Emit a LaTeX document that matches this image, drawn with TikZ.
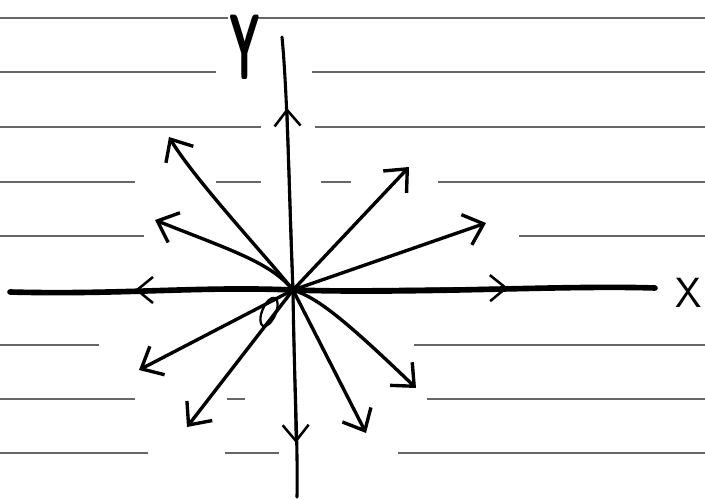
\documentclass[tikz,border=0pt]{standalone}
\usetikzlibrary{arrows.meta}
\begin{document}
\begin{tikzpicture}[
        x=0.025cm, y=-0.025cm,
        rule/.style={black!60, line width=0.9pt},
        xaxisline/.style={line width=4pt, line cap=round},
        yaxisline/.style={line width=2.2pt, line cap=round},
        ray/.style={-{Straight Barb[length=4.5mm,width=8mm]}, line width=2.4pt, line cap=round},
        midtip/.style={-{Straight Barb[length=4mm,width=6.5mm]}, line width=1.8pt},
        axislabel/.style={font=\sffamily, inner sep=0pt}
    ]
        % Paper
        \useasboundingbox[fill=white] (0,0) rectangle (705,500);
        \foreach \a/\b/\h in {0/228/18, 258/705/18, 0/216/72, 312/705/72,
                0/261/127, 315/705/127, 0/135/182, 216/261/182, 321/351/182, 438/705/182,
                0/144/236, 519/705/236, 0/99/345, 414/705/345,
                0/135/399, 227/245/399, 427/705/399, 0/148/453, 225/279/453, 398/705/453}
            \draw[rule] (\a,\h) -- (\b,\h);

        % Points
        \coordinate (O) at (293,290);
        \coordinate (xl) at (10,292);
        \coordinate (xr) at (655,288);
        \coordinate (yt) at (282,37);
        \coordinate (yb) at (297,497);
        \coordinate (xtipL) at (135,290);
        \coordinate (xtipR) at (508,288);
        \coordinate (ytipU) at (287,108);
        \coordinate (ytipD) at (296,443);
        \coordinate (r1) at (169,137);
        \coordinate (r2) at (155,220);
        \coordinate (r3) at (409,167);
        \coordinate (r4) at (486,223);
        \coordinate (r5) at (139,370);
        \coordinate (r6) at (187,427);
        \coordinate (r7) at (366,433);
        \coordinate (r8) at (416,388);

        % Axes
        \draw[xaxisline] (xl) .. controls (120,295) and (200,286) .. (O)
            .. controls (420,294) and (560,285) .. (xr);
        \draw[yaxisline] (yt) .. controls (288,100) and (289,200) .. (O)
            .. controls (294,380) and (298,440) .. (yb);
        \draw[midtip] (O) -- (xtipL);
        \draw[midtip] (O) -- (xtipR);
        \draw[midtip] (O) -- (ytipU);
        \draw[midtip] (O) -- (ytipD);

        % Rays
        \draw[ray] (O) .. controls (265,255) and (195,180) .. (r1);
        \draw[ray] (O) .. controls (270,262) and (230,250) .. (r2);
        \draw[ray] (O) -- (r3);
        \draw[ray] (O) -- (r4);
        \draw[ray] (O) -- (r5);
        \draw[ray] (O) -- (r6);
        \draw[ray] (O) -- (r7);
        \draw[ray] (O) .. controls (318,298) and (345,320) .. (r8);

        % Angle loop
        \coordinate (loop) at (269,312);
        \draw[line width=1.6pt] (loop) ellipse [x radius=0.17cm, y radius=0.38cm, rotate=-23];

        % Labels
        \node[axislabel, font=\sffamily\bfseries\fontsize{66}{66}\selectfont, xscale=0.45] (ylabel) at (245,47) {Y};
        \node[axislabel, font=\sffamily\fontsize{30}{30}\selectfont] (xlabel) at (689,293) {X};
    \end{tikzpicture}
\end{document}
